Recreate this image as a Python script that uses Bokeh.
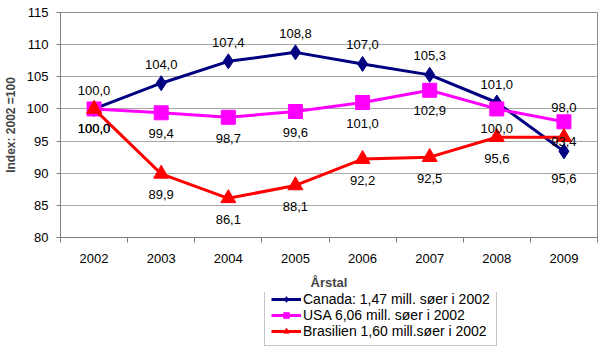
from bokeh.plotting import figure
from bokeh.models import ColumnDataSource, Legend, LegendItem, FixedTicker
from bokeh.layouts import column
from bokeh.core.properties import value
from bokeh.embed import file_html
from bokeh.resources import INLINE

years = ["2002", "2003", "2004", "2005", "2006", "2007", "2008", "2009"]
canada = [100.0, 104.0, 107.4, 108.8, 107.0, 105.3, 101.0, 93.4]
usa = [100.0, 99.4, 98.7, 99.6, 101.0, 102.9, 100.0, 98.0]
brasilien = [100.0, 89.9, 86.1, 88.1, 92.2, 92.5, 95.6, 95.6]
names = ["Canada: 1,47 mill. søer i 2002", "USA 6,06 mill. søer i 2002", "Brasilien 1,60 mill.søer i 2002"]

# label offsets (screen px, negative = above) - layout only
off_canada = [-18, -19, -19, -19, -19, -19, -18, -10]
off_usa = [20, 21, 21, 21, 21, 20, 20, -14]
off_bras = [20, 21, 21, 21, 21, 21, 21, 41]

FONT = "Liberation Sans"
xs = list(range(len(years)))

p = figure(frame_width=537, frame_height=225, x_range=(-0.5, len(years) - 0.5), y_range=(80, 115),
           output_backend="svg", toolbar_location=None,
           min_border_left=58, min_border_right=5, min_border_top=12, min_border_bottom=53)
p.background_fill_color = "white"
p.border_fill_color = "white"
p.outline_line_color = "#8c8c8c"
p.outline_line_width = 1

p.xgrid.visible = False
p.ygrid.grid_line_color = "#a6a6a6"
p.ygrid.grid_line_width = 1

p.yaxis.ticker = FixedTicker(ticks=list(range(80, 116, 5)))
p.yaxis.axis_label = "Index: 2002 =100"
p.yaxis.axis_label_text_font = FONT
p.yaxis.axis_label_text_font_style = "bold"
p.yaxis.axis_label_text_font_size = "12px"
p.yaxis.axis_label_standoff = 6
p.yaxis.major_label_text_font = FONT
p.yaxis.major_label_text_font_size = "13px"
p.yaxis.major_label_text_color = "black"
p.yaxis.major_tick_out = 4
p.yaxis.major_tick_in = 0
p.yaxis.minor_tick_out = 0
p.yaxis.minor_tick_in = 0
p.yaxis.major_label_standoff = 8
p.yaxis.axis_line_color = "#7f7f7f"
p.yaxis.major_tick_line_color = "#7f7f7f"

p.xaxis.ticker = FixedTicker(ticks=xs, minor_ticks=[i - 0.5 for i in range(len(years) + 1)])
p.xaxis.major_label_overrides = {i: y for i, y in enumerate(years)}
p.xaxis.axis_label = "Årstal"
p.xaxis.axis_label_text_font = FONT
p.xaxis.axis_label_text_font_style = "bold"
p.xaxis.axis_label_text_font_size = "13px"
p.xaxis.axis_label_standoff = 9
p.xaxis.major_label_text_font = FONT
p.xaxis.major_label_text_font_size = "13px"
p.xaxis.major_label_text_color = "black"
p.xaxis.major_tick_out = 0
p.xaxis.major_tick_in = 0
p.xaxis.minor_tick_out = 5
p.xaxis.minor_tick_in = 0
p.xaxis.minor_tick_line_color = "#7f7f7f"
p.xaxis.major_label_standoff = 11
p.xaxis.axis_line_color = "#7f7f7f"

def fmt(v):
    return f"{v:.1f}".replace(".", ",")

series = [
    (canada, "#000080", "diamond", 15, off_canada),
    (usa, "#ff00ff", "square", 14, off_usa),
    (brasilien, "#ff0000", "triangle", 15, off_bras),
]
label_sources = []
for vals, color, marker, size, offs in series:
    src = ColumnDataSource(dict(x=xs, y=vals, lab=[fmt(v) for v in vals], off=offs))
    p.line("x", "y", source=src, line_color=color, line_width=3)
    p.scatter("x", "y", source=src, marker=marker, size=size,
              fill_color=color, line_color=color)
    label_sources.append(src)

for src in label_sources:
    p.text("x", "y", text="lab", source=src, y_offset="off",
           text_font=value(FONT), text_font_size="13px", text_color="black",
           text_align="center", text_baseline="middle")

# Legend panel: a second figure whose view excludes the data, holding only the legend
lg = figure(width=600, height=60, x_range=(-0.5, len(years) - 0.5), y_range=(0, 1),
            x_axis_location=None, y_axis_location=None,
            output_backend="svg", toolbar_location=None,
            min_border_left=0, min_border_right=0, min_border_top=0, min_border_bottom=0)
lg.grid.visible = False
lg.outline_line_color = None
lg.border_fill_color = "white"
items = []
for (vals, color, marker, size, offs), name in zip(series, names):
    src = ColumnDataSource(dict(x=xs, y=vals))
    ln = lg.line("x", "y", source=src, line_color=color, line_width=3)
    sc = lg.scatter("x", "y", source=src, marker=marker, size=size,
                    fill_color=color, line_color=color)
    items.append(LegendItem(label=name, renderers=[ln, sc]))

legend = Legend(items=items, location=(204, 6), orientation="vertical")
legend.label_text_font = FONT
legend.label_text_font_size = "14px"
legend.label_text_color = "black"
legend.glyph_width = 30
legend.glyph_height = 14
legend.label_height = 14
legend.label_standoff = 2
legend.spacing = 0
legend.padding = 6
legend.margin = 0
legend.border_line_color = "#8c8c8c"
legend.border_line_width = 1
legend.background_fill_alpha = 1
lg.add_layout(legend, "center")

layout = column(p, lg, spacing=0)
open("out.html", "w").write(file_html(layout, INLINE))
